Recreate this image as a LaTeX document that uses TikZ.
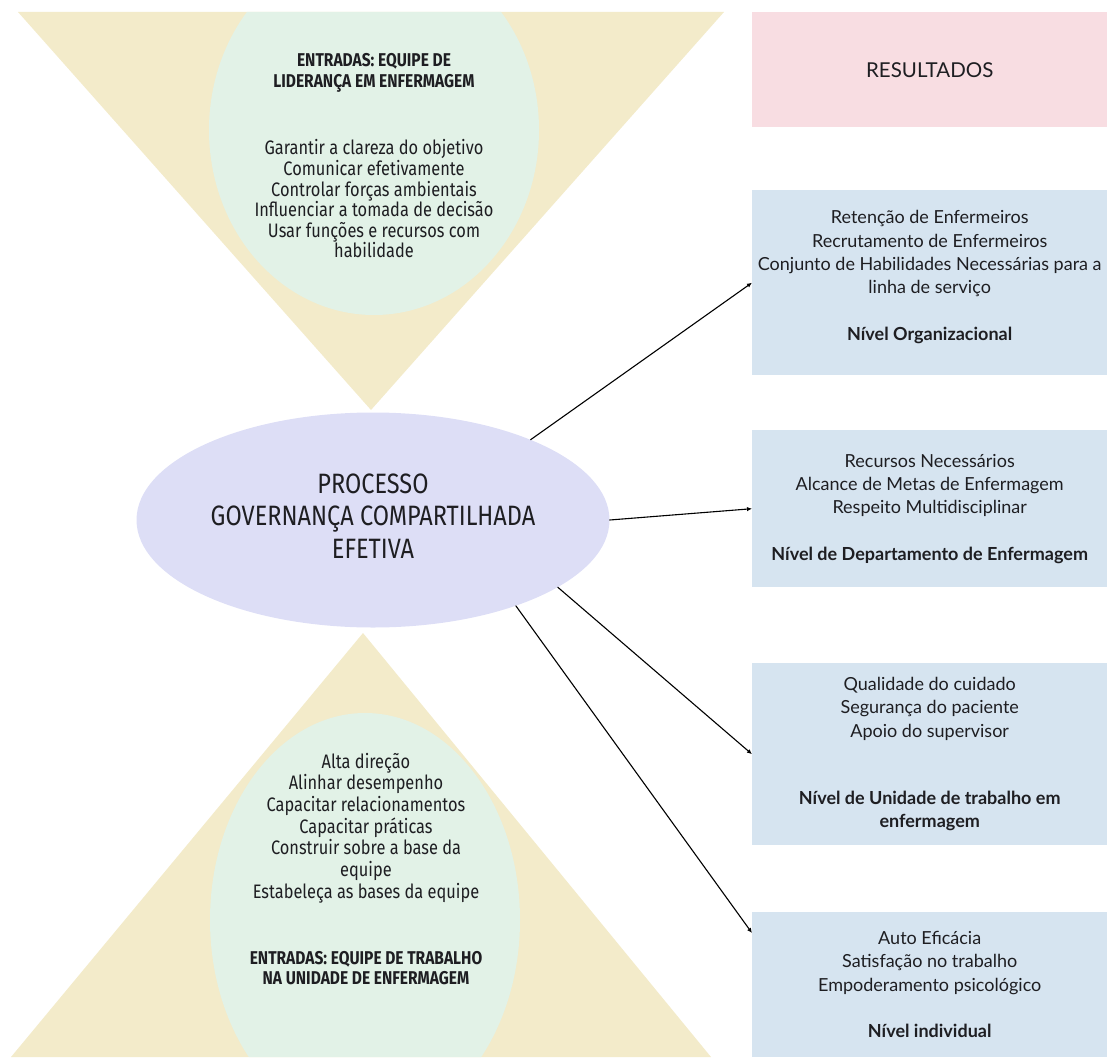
\documentclass[tikz,border=0pt]{standalone}
\usepackage{fontspec}
\setmainfont{Lato}
\newfontfamily\condfont[FakeStretch=0.84]{Fira Sans}
\usetikzlibrary{arrows.meta,shapes.geometric,positioning}

\definecolor{trifill}{RGB}{243,235,202}
\definecolor{mintfill}{RGB}{226,242,231}
\definecolor{procfill}{RGB}{221,222,246}
\definecolor{headfill}{RGB}{248,221,226}
\definecolor{levelfill}{RGB}{214,228,240}
\definecolor{inktext}{RGB}{30,30,34}

\begin{document}
\begin{tikzpicture}[
  x=1pt, y=-1pt,
  line cap=round,
  line join=round,
  text=inktext,
  link/.style={-{Latex[length=5pt,width=4.5pt]}, line width=1.1pt, draw=black},
  resbox/.style={fill=levelfill, anchor=north west, minimum width=355pt, inner sep=0pt, align=center, font=\fontsize{18}{23.3}\selectfont},
  headbox/.style={fill=headfill, anchor=north west, minimum width=355pt, minimum height=115pt, inner sep=0pt, font=\fontsize{20.5}{23}\selectfont},
  inlist/.style={align=center, inner sep=0pt},
  intitle/.style={align=center, inner sep=0pt, font=\condfont\bfseries\fontsize{18.5}{20.5}\selectfont},
  procnode/.style={ellipse, fill=procfill, minimum width=473pt, minimum height=215pt, inner sep=0pt, align=center, font=\condfont\fontsize{28}{32.5}\selectfont}
]

\useasboundingbox (0,0) rectangle (1107,1059);

% Leadership input: inverted triangle with its circle.
\fill[trifill] (18,12) -- (724,12) -- (371,410) -- cycle;
\begin{scope}
  \clip (18,12) -- (724,12) -- (371,410) -- cycle;
  \fill[mintfill] (374,130) ellipse [x radius=165pt, y radius=185pt];
\end{scope}

% Work unit input: upright triangle with its circle.
\fill[trifill] (11,1057) -- (711,1057) -- (363,633) -- cycle;
\begin{scope}
  \clip (11,1057) -- (711,1057) -- (363,633) -- cycle;
  \fill[mintfill] (365,920) ellipse [x radius=155pt, y radius=207pt];
\end{scope}

% Input texts.
\node[intitle] (leadTitle) at (374,73) {ENTRADAS: EQUIPE DE\\LIDERANÇA EM ENFERMAGEM};
\node[inlist, font=\condfont\fontsize{19.5}{20.6}\selectfont] (leadList) at (374,199)
  {Garantir a clareza do objetivo\\Comunicar efetivamente\\Controlar forças ambientais\\Influenciar a tomada de decisão\\Usar funções e recursos com\\habilidade};
\node[inlist, font=\condfont\fontsize{19.5}{21.7}\selectfont] (teamList) at (366,828)
  {Alta direção\\Alinhar desempenho\\Capacitar relacionamentos\\Capacitar práticas\\Construir sobre a base da\\equipe\\Estabeleça as bases da equipe};
\node[intitle] (teamTitle) at (366,968) {ENTRADAS: EQUIPE DE TRABALHO\\NA UNIDADE DE ENFERMAGEM};

% Process.
\node[procnode] (proc) at (373,520) {PROCESSO\\GOVERNANÇA COMPARTILHADA\\EFETIVA\\[-24pt]};

% Outcomes column.
\node[headbox] (results) at (752,12) {RESULTADOS};
\node[resbox, minimum height=185pt] (orgLevel) at (752,190)
  {Retenção de Enfermeiros\\Recrutamento de Enfermeiros\\Conjunto de Habilidades Necessárias para a\\linha de serviço\\[23.3pt]\textbf{Nível Organizacional}\\[-9pt]};
\node[resbox, minimum height=157pt] (deptLevel) at (752,430)
  {Recursos Necessários\\Alcance de Metas de Enfermagem\\Respeito Multidisciplinar\\[23.3pt]\textbf{Nível de Departamento de Enfermagem}};
\node[resbox, minimum height=182pt] (unitLevel) at (752,663)
  {Qualidade do cuidado\\Segurança do paciente\\Apoio do supervisor\\[44pt]\textbf{Nível de Unidade de trabalho em}\\\textbf{enfermagem}};
\node[resbox, minimum height=145pt] (indivLevel) at (752,912)
  {Auto Eficácia\\Satisfação no trabalho\\Empoderamento psicológico\\[23.3pt]\textbf{Nível individual}};

% Connectors.
\draw[link] (proc.27) -- (orgLevel.west);
\draw[link] (proc.east) -- (deptLevel.west);
\draw[link] (proc.-20) -- (unitLevel.west);
\draw[link] (proc.-31) -- ([yshift=-21pt]indivLevel.north west);

\end{tikzpicture}
\end{document}
